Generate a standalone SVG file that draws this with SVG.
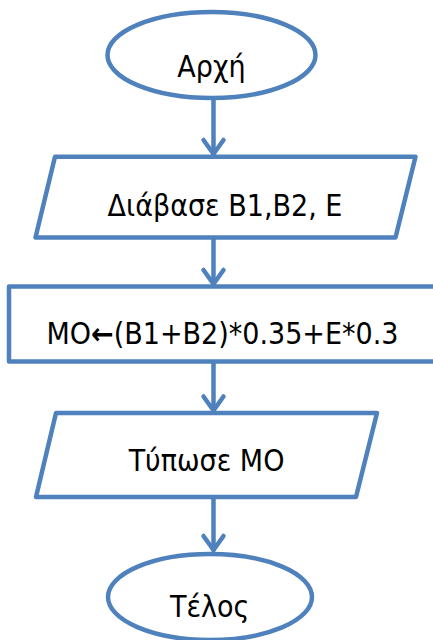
<svg xmlns="http://www.w3.org/2000/svg" width="433" height="640" viewBox="0 0 433 640">
  <style>
    .shape { fill: #ffffff; stroke: #4F81BD; stroke-width: 4.5; stroke-linejoin: round; }
    .conn { fill: none; stroke: #4F81BD; stroke-width: 4.5; stroke-linecap: round; }
    .label { font-family: "DejaVu Sans Condensed", "DejaVu Sans", sans-serif; font-stretch: condensed; font-size: 30px; fill: #000000; text-anchor: middle; }
    .arr { font-weight: bold; }
  </style>
  <defs>
    <marker id="head" markerUnits="userSpaceOnUse" markerWidth="30" markerHeight="30" viewBox="-20 -15 30 30" refX="0" refY="0" orient="auto" overflow="visible">
      <path d="M -14 -10 L 0 0 L -14 10" fill="none" stroke="#4F81BD" stroke-width="4.5" stroke-linecap="round" stroke-linejoin="round"/>
    </marker>
  </defs>
  <rect width="433" height="640" fill="#ffffff"/>
  <g id="connectors">
    <line class="conn" x1="213.5" y1="98" x2="213.5" y2="154" marker-end="url(#head)"/>
    <line class="conn" x1="213.5" y1="238" x2="213.5" y2="284" marker-end="url(#head)"/>
    <line class="conn" x1="213.5" y1="362" x2="213.5" y2="410.5" marker-end="url(#head)"/>
    <line class="conn" x1="213.5" y1="497" x2="213.5" y2="550" marker-end="url(#head)"/>
  </g>
  <g id="start">
    <ellipse class="shape" cx="211.5" cy="55" rx="104" ry="43"/>
    <text class="label" x="211.5" y="77">Αρχή</text>
  </g>
  <g id="read">
    <polygon class="shape" points="55,156.7 415.5,156.7 395.5,237.5 35.5,237.5"/>
    <text class="label" x="225" y="216">Διάβασε B1,B2, E</text>
  </g>
  <g id="compute">
    <rect class="shape" x="9" y="286.5" width="440" height="75"/>
    <text class="label" x="222.5" y="344">MO<tspan class="arr">←</tspan>(B1+B2)*0.35+E*0.3</text>
  </g>
  <g id="print">
    <polygon class="shape" points="56,413 377,413 356,497 36,497"/>
    <text class="label" x="206.5" y="471">Τύπωσε ΜΟ</text>
  </g>
  <g id="end">
    <ellipse class="shape" cx="210" cy="597" rx="102" ry="43"/>
    <text class="label" x="209.7" y="617">Τέλος</text>
  </g>
</svg>
